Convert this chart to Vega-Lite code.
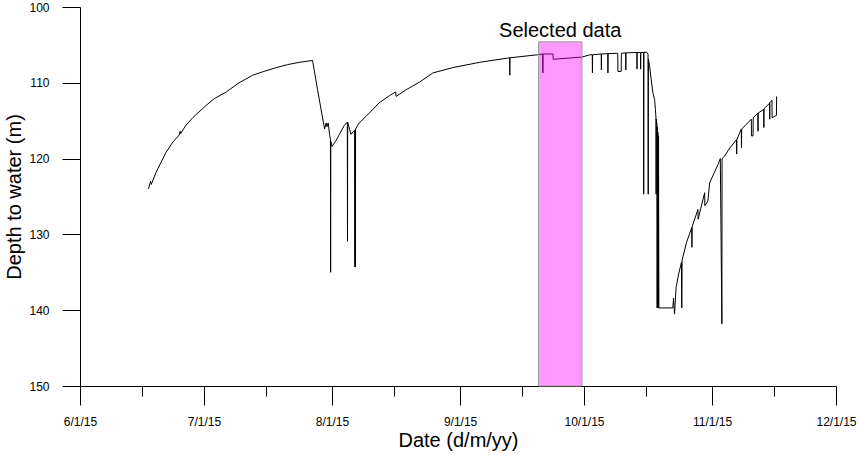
{
  "$schema": "https://vega.github.io/schema/vega-lite/v6.json",
  "width": 756,
  "height": 379,
  "autosize": {"type": "none"},
  "padding": {"left": 80, "top": 7, "right": 23, "bottom": 69},
  "background": "white",
  "config": {
    "view": {"stroke": null},
    "font": "Liberation Sans",
    "axis": {
      "grid": false,
      "domainColor": "black",
      "domainWidth": 1,
      "tickColor": "black",
      "tickWidth": 1,
      "labelColor": "black",
      "labelFont": "Liberation Sans",
      "labelFontSize": 12,
      "titleFont": "Liberation Sans",
      "titleFontSize": 20,
      "titleFontWeight": "normal",
      "titleColor": "black",
      "labelOverlap": false,
      "labelFlush": false,
      "labelBound": false
    }
  },
  "datasets": {
    "series": [
      {"t": "2015-06-17T14:00:00Z", "d": 124.0},
      {"t": "2015-06-18T02:00:00Z", "d": 123.0},
      {"t": "2015-06-18T06:00:00Z", "d": 123.4},
      {"t": "2015-06-19T10:00:00Z", "d": 121.8},
      {"t": "2015-06-21T19:00:00Z", "d": 119.2},
      {"t": "2015-06-23T12:00:00Z", "d": 117.8},
      {"t": "2015-06-25T00:00:00Z", "d": 116.9},
      {"t": "2015-06-25T06:00:00Z", "d": 116.4},
      {"t": "2015-06-25T09:00:00Z", "d": 116.7},
      {"t": "2015-06-26T12:00:00Z", "d": 115.7},
      {"t": "2015-06-28T07:00:00Z", "d": 114.6},
      {"t": "2015-07-01T12:00:00Z", "d": 113.0},
      {"t": "2015-07-03T12:00:00Z", "d": 112.1},
      {"t": "2015-07-06T10:00:00Z", "d": 111.2},
      {"t": "2015-07-09T12:00:00Z", "d": 110.0},
      {"t": "2015-07-12T19:00:00Z", "d": 109.0},
      {"t": "2015-07-15T12:00:00Z", "d": 108.5},
      {"t": "2015-07-18T12:00:00Z", "d": 108.0},
      {"t": "2015-07-21T06:00:00Z", "d": 107.6},
      {"t": "2015-07-24T02:00:00Z", "d": 107.3},
      {"t": "2015-07-27T07:00:00Z", "d": 107.05},
      {"t": "2015-07-28T12:00:00Z", "d": 110.9},
      {"t": "2015-07-29T10:00:00Z", "d": 113.7},
      {"t": "2015-07-30T05:00:00Z", "d": 116.1},
      {"t": "2015-07-30T14:00:00Z", "d": 115.3},
      {"t": "2015-07-30T19:00:00Z", "d": 115.8},
      {"t": "2015-07-31T02:00:00Z", "d": 115.3},
      {"t": "2015-07-31T10:00:00Z", "d": 116.8},
      {"t": "2015-07-31T15:00:00Z", "d": 117.5},
      {"t": "2015-07-31T16:00:00Z", "d": 135.0},
      {"t": "2015-07-31T17:00:00Z", "d": 117.7},
      {"t": "2015-08-01T00:00:00Z", "d": 118.4},
      {"t": "2015-08-02T00:00:00Z", "d": 117.6},
      {"t": "2015-08-02T19:00:00Z", "d": 116.8},
      {"t": "2015-08-04T00:00:00Z", "d": 115.6},
      {"t": "2015-08-04T17:00:00Z", "d": 115.2},
      {"t": "2015-08-04T18:00:00Z", "d": 130.9},
      {"t": "2015-08-04T19:00:00Z", "d": 115.2},
      {"t": "2015-08-05T14:00:00Z", "d": 116.8},
      {"t": "2015-08-06T05:00:00Z", "d": 116.4},
      {"t": "2015-08-06T12:00:00Z", "d": 116.3},
      {"t": "2015-08-06T13:00:00Z", "d": 134.3},
      {"t": "2015-08-06T14:00:00Z", "d": 116.2},
      {"t": "2015-08-06T16:00:00Z", "d": 134.3},
      {"t": "2015-08-06T17:00:00Z", "d": 116.1},
      {"t": "2015-08-07T14:00:00Z", "d": 115.3},
      {"t": "2015-08-09T07:00:00Z", "d": 114.4},
      {"t": "2015-08-12T12:00:00Z", "d": 112.6},
      {"t": "2015-08-14T22:00:00Z", "d": 111.7},
      {"t": "2015-08-16T10:00:00Z", "d": 111.2},
      {"t": "2015-08-16T12:00:00Z", "d": 111.8},
      {"t": "2015-08-19T00:00:00Z", "d": 110.9},
      {"t": "2015-08-22T05:00:00Z", "d": 109.9},
      {"t": "2015-08-25T10:00:00Z", "d": 108.7},
      {"t": "2015-08-30T05:00:00Z", "d": 108.0},
      {"t": "2015-09-05T17:00:00Z", "d": 107.3},
      {"t": "2015-09-13T00:00:00Z", "d": 106.7},
      {"t": "2015-09-13T01:00:00Z", "d": 109.0},
      {"t": "2015-09-13T02:00:00Z", "d": 106.7},
      {"t": "2015-09-19T19:00:00Z", "d": 106.3},
      {"t": "2015-09-21T00:00:00Z", "d": 106.2},
      {"t": "2015-09-21T01:00:00Z", "d": 108.7},
      {"t": "2015-09-21T02:00:00Z", "d": 106.2},
      {"t": "2015-09-23T12:00:00Z", "d": 106.2},
      {"t": "2015-09-23T13:00:00Z", "d": 106.9},
      {"t": "2015-09-30T12:00:00Z", "d": 106.6},
      {"t": "2015-10-02T12:00:00Z", "d": 106.3},
      {"t": "2015-10-03T00:00:00Z", "d": 106.3},
      {"t": "2015-10-03T01:00:00Z", "d": 108.7},
      {"t": "2015-10-03T02:00:00Z", "d": 106.3},
      {"t": "2015-10-05T04:00:00Z", "d": 106.2},
      {"t": "2015-10-05T05:00:00Z", "d": 108.3},
      {"t": "2015-10-05T06:00:00Z", "d": 106.2},
      {"t": "2015-10-06T18:00:00Z", "d": 106.15},
      {"t": "2015-10-06T19:00:00Z", "d": 108.7},
      {"t": "2015-10-06T20:00:00Z", "d": 106.15},
      {"t": "2015-10-09T04:00:00Z", "d": 106.1},
      {"t": "2015-10-09T05:00:00Z", "d": 108.5},
      {"t": "2015-10-10T00:00:00Z", "d": 108.5},
      {"t": "2015-10-10T01:00:00Z", "d": 106.1},
      {"t": "2015-10-11T02:00:00Z", "d": 106.05},
      {"t": "2015-10-11T03:00:00Z", "d": 108.3},
      {"t": "2015-10-11T04:00:00Z", "d": 106.05},
      {"t": "2015-10-13T19:00:00Z", "d": 106.0},
      {"t": "2015-10-13T20:00:00Z", "d": 108.2},
      {"t": "2015-10-13T21:00:00Z", "d": 106.0},
      {"t": "2015-10-14T16:00:00Z", "d": 106.0},
      {"t": "2015-10-14T17:00:00Z", "d": 108.2},
      {"t": "2015-10-14T18:00:00Z", "d": 106.0},
      {"t": "2015-10-15T10:00:00Z", "d": 106.0},
      {"t": "2015-10-15T11:00:00Z", "d": 124.7},
      {"t": "2015-10-15T12:00:00Z", "d": 106.0},
      {"t": "2015-10-16T04:00:00Z", "d": 105.95},
      {"t": "2015-10-16T12:00:00Z", "d": 106.2},
      {"t": "2015-10-16T13:00:00Z", "d": 124.7},
      {"t": "2015-10-16T14:00:00Z", "d": 106.9},
      {"t": "2015-10-16T21:00:00Z", "d": 107.8},
      {"t": "2015-10-17T06:00:00Z", "d": 109.5},
      {"t": "2015-10-17T16:00:00Z", "d": 111.3},
      {"t": "2015-10-18T02:00:00Z", "d": 112.2},
      {"t": "2015-10-18T07:00:00Z", "d": 113.5},
      {"t": "2015-10-18T10:00:00Z", "d": 114.6},
      {"t": "2015-10-18T11:00:00Z", "d": 124.7},
      {"t": "2015-10-18T12:00:00Z", "d": 114.8},
      {"t": "2015-10-18T16:00:00Z", "d": 115.5},
      {"t": "2015-10-18T17:00:00Z", "d": 139.7},
      {"t": "2015-10-18T18:00:00Z", "d": 115.8},
      {"t": "2015-10-18T20:00:00Z", "d": 139.7},
      {"t": "2015-10-18T21:00:00Z", "d": 116.5},
      {"t": "2015-10-19T00:00:00Z", "d": 139.7},
      {"t": "2015-10-19T01:00:00Z", "d": 117.0},
      {"t": "2015-10-19T03:00:00Z", "d": 139.7},
      {"t": "2015-10-22T12:00:00Z", "d": 139.7},
      {"t": "2015-10-22T16:00:00Z", "d": 138.4},
      {"t": "2015-10-22T22:00:00Z", "d": 140.5},
      {"t": "2015-10-23T07:00:00Z", "d": 137.0},
      {"t": "2015-10-23T22:00:00Z", "d": 135.2},
      {"t": "2015-10-24T14:00:00Z", "d": 133.7},
      {"t": "2015-10-24T16:00:00Z", "d": 139.7},
      {"t": "2015-10-24T18:00:00Z", "d": 133.4},
      {"t": "2015-10-25T19:00:00Z", "d": 131.1},
      {"t": "2015-10-27T02:00:00Z", "d": 129.1},
      {"t": "2015-10-27T03:00:00Z", "d": 131.7},
      {"t": "2015-10-27T04:00:00Z", "d": 129.0},
      {"t": "2015-10-28T14:00:00Z", "d": 126.7},
      {"t": "2015-10-28T15:00:00Z", "d": 128.0},
      {"t": "2015-10-30T05:00:00Z", "d": 124.5},
      {"t": "2015-10-30T06:00:00Z", "d": 126.2},
      {"t": "2015-10-31T00:00:00Z", "d": 125.6},
      {"t": "2015-10-31T10:00:00Z", "d": 123.2},
      {"t": "2015-11-02T10:00:00Z", "d": 120.8},
      {"t": "2015-11-03T00:00:00Z", "d": 120.0},
      {"t": "2015-11-03T09:00:00Z", "d": 141.8},
      {"t": "2015-11-03T10:00:00Z", "d": 120.0},
      {"t": "2015-11-04T00:00:00Z", "d": 119.7},
      {"t": "2015-11-05T07:00:00Z", "d": 118.6},
      {"t": "2015-11-06T22:00:00Z", "d": 117.5},
      {"t": "2015-11-06T23:00:00Z", "d": 119.4},
      {"t": "2015-11-07T00:00:00Z", "d": 117.5},
      {"t": "2015-11-08T02:00:00Z", "d": 116.1},
      {"t": "2015-11-08T03:00:00Z", "d": 118.6},
      {"t": "2015-11-08T04:00:00Z", "d": 116.1},
      {"t": "2015-11-09T06:00:00Z", "d": 115.5},
      {"t": "2015-11-10T12:00:00Z", "d": 114.8},
      {"t": "2015-11-10T13:00:00Z", "d": 117.0},
      {"t": "2015-11-10T22:00:00Z", "d": 117.0},
      {"t": "2015-11-10T23:00:00Z", "d": 114.6},
      {"t": "2015-11-12T02:00:00Z", "d": 114.0},
      {"t": "2015-11-12T03:00:00Z", "d": 116.4},
      {"t": "2015-11-12T04:00:00Z", "d": 114.0},
      {"t": "2015-11-13T12:00:00Z", "d": 113.5},
      {"t": "2015-11-13T13:00:00Z", "d": 115.9},
      {"t": "2015-11-13T14:00:00Z", "d": 113.4},
      {"t": "2015-11-14T22:00:00Z", "d": 112.7},
      {"t": "2015-11-14T23:00:00Z", "d": 114.8},
      {"t": "2015-11-15T00:00:00Z", "d": 112.6},
      {"t": "2015-11-15T12:00:00Z", "d": 112.3},
      {"t": "2015-11-15T13:00:00Z", "d": 114.6},
      {"t": "2015-11-16T14:00:00Z", "d": 114.3},
      {"t": "2015-11-16T15:00:00Z", "d": 111.8}
    ],
    "sel": [
      {"start": "2015-09-20T00:00:00Z", "end": "2015-09-30T12:00:00Z", "top": 104.6, "bottom": 150}
    ],
    "note": [
      {"t": "2015-09-25T06:00:00Z", "d": 103.9, "label": "Selected data"}
    ]
  },
  "layer": [
    {
      "data": {"name": "series"},
      "mark": {"type": "line", "color": "black", "strokeWidth": 1},
      "encoding": {
        "x": {
          "field": "t",
          "type": "temporal",
          "scale": {
            "type": "utc",
            "domain": [
              {"year": 2015, "month": 6, "date": 1, "utc": true},
              {"year": 2015, "month": 12, "date": 1, "utc": true}
            ]
          },
          "axis": {
            "title": "Date (d/m/yy)",
            "values": [
              {"year": 2015, "month": 6, "date": 1, "utc": true},
              {"year": 2015, "month": 6, "date": 16, "utc": true},
              {"year": 2015, "month": 7, "date": 1, "utc": true},
              {"year": 2015, "month": 7, "date": 16, "utc": true},
              {"year": 2015, "month": 8, "date": 1, "utc": true},
              {"year": 2015, "month": 8, "date": 16, "utc": true},
              {"year": 2015, "month": 9, "date": 1, "utc": true},
              {"year": 2015, "month": 9, "date": 16, "utc": true},
              {"year": 2015, "month": 10, "date": 1, "utc": true},
              {"year": 2015, "month": 10, "date": 16, "utc": true},
              {"year": 2015, "month": 11, "date": 1, "utc": true},
              {"year": 2015, "month": 11, "date": 16, "utc": true},
              {"year": 2015, "month": 12, "date": 1, "utc": true}
            ],
            "labelExpr": "utcdate(datum.value) == 1 ? utcFormat(datum.value, '%-m/%-d/%y') : ''",
            "tickSize": {"condition": {"test": "utcdate(datum.value) != 1", "value": 10}, "value": 19},
            "labelPadding": 11,
            "titlePadding": 3
          }
        },
        "y": {
          "field": "d",
          "type": "quantitative",
          "scale": {"domain": [100, 150], "reverse": true, "nice": false, "zero": false},
          "axis": {
            "title": "Depth to water (m)",
            "values": [100, 105, 110, 115, 120, 125, 130, 135, 140, 145, 150],
            "labelExpr": "datum.value % 10 == 0 ? datum.label : ''",
            "tickSize": {"condition": {"test": "datum.value % 10 != 0", "value": 9}, "value": 18},
            "labelPadding": 13,
            "titlePadding": 4
          }
        }
      }
    },
    {
      "data": {"name": "sel"},
      "mark": {"type": "rect", "fill": "#ff00ff", "fillOpacity": 0.4, "stroke": "#9a9a9a", "strokeWidth": 1},
      "encoding": {
        "x": {"field": "start", "type": "temporal"},
        "x2": {"field": "end"},
        "y": {"field": "top", "type": "quantitative"},
        "y2": {"field": "bottom"}
      }
    },
    {
      "data": {"name": "note"},
      "mark": {"type": "text", "fontSize": 20, "font": "Liberation Sans", "align": "center", "baseline": "alphabetic", "color": "black"},
      "encoding": {
        "x": {"field": "t", "type": "temporal"},
        "y": {"field": "d", "type": "quantitative"},
        "text": {"field": "label"}
      }
    }
  ]
}
